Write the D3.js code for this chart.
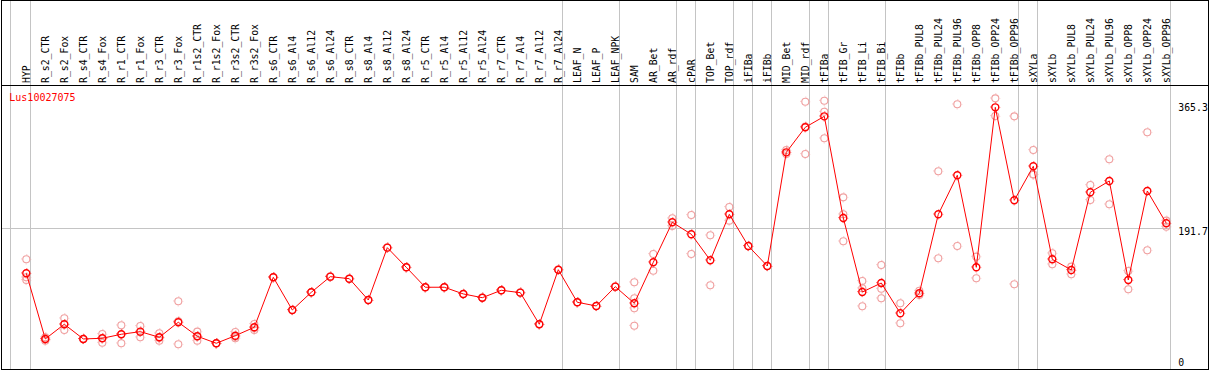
<!DOCTYPE html>
<html>
<head>
<meta charset="utf-8">
<script src="https://cdn.jsdelivr.net/npm/d3@7"></script>
<style>
  html, body { margin: 0; padding: 0; background: #fff; }
  svg { display: block; }
  text { font-family: "DejaVu Sans Mono", monospace; }
</style>
</head>
<body>
<svg id="chart"></svg>
<script>
const W = 1209, H = 370;

const geneId = "Lus10027075";

const categories = [
  "HYP", "R_s2_CTR", "R_s2_Fox", "R_s4_CTR", "R_s4_Fox", "R_r1_CTR", "R_r1_Fox",
  "R_r3_CTR", "R_r3_Fox", "R_r1s2_CTR", "R_r1s2_Fox", "R_r3s2_CTR", "R_r3s2_Fox",
  "R_s6_CTR", "R_s6_Al4", "R_s6_Al12", "R_s6_Al24", "R_s8_CTR", "R_s8_Al4",
  "R_s8_Al12", "R_s8_Al24", "R_r5_CTR", "R_r5_Al4", "R_r5_Al12", "R_r5_Al24",
  "R_r7_CTR", "R_r7_Al4", "R_r7_Al12", "R_r7_Al24", "LEAF_N", "LEAF_P", "LEAF_NPK",
  "SAM", "AR_Bet", "AR_rdf", "cPAR", "TOP_Bet", "TOP_rdf", "iFIBa", "iFIBb",
  "MID_Bet", "MID_rdf", "tFIBa", "tFIB_Gr", "tFIB_Li", "tFIB_Bi", "tFIBb",
  "tFIBb_PUL8", "tFIBb_PUL24", "tFIBb_PUL96", "tFIBb_OPP8", "tFIBb_OPP24", "tFIBb_OPP96",
  "sXYLa", "sXYLb", "sXYLb_PUL8", "sXYLb_PUL24", "sXYLb_PUL96", "sXYLb_OPP8",
  "sXYLb_OPP24", "sXYLb_OPP96"
];

// last sample of each group (a separator line follows it)
const groupEnds = [
  "HYP", "R_r7_Al24", "LEAF_NPK", "AR_rdf", "cPAR", "TOP_rdf", "iFIBa", "iFIBb",
  "MID_rdf", "tFIBa", "tFIB_Bi", "tFIBb_OPP96", "sXYLa", "sXYLb_OPP96"
];

const means = [
  129.2, 38.0, 58.4, 38.0, 38.9, 44.5, 48.1, 40.3, 61.2, 41.7, 32.0, 42.5, 54.2,
  123.6, 78.2, 102.8, 124.5, 121.7, 92.1, 164.8, 137.5, 109.8, 109.8, 100.5, 95.3,
  105.6, 102.3, 58.4, 134.2, 88.9, 83.8, 110.6,
  87.5, 144.5, 200.0, 183.4, 147.3, 211.1, 167.1, 139.3,
  297.2, 332.0, 347.2, 206.0, 103.2, 115.7, 73.6,
  101.4, 211.1, 265.3, 137.5, 359.7, 230.6,
  277.8, 148.6, 133.8, 241.7, 257.4, 119.9, 243.5, 198.6
];

const replicates = [
  [148.6, 123.6, 119.9], [40.3, 35.6, 38.0], [66.7, 50.5, 58.0], [38.0, 38.0, 38.0],
  [44.9, 32.8, 39.0], [57.0, 32.0, 44.5], [56.0, 40.3, 48.0], [45.9, 35.6, 39.5],
  [90.3, 30.6, 62.6], [48.1, 35.6, 41.5], [32.0, 32.0, 32.0], [47.7, 38.9, 41.0],
  [58.8, 50.5, 53.3],
  [123.6, 123.6], [78.2, 78.2], [102.8, 102.8], [124.5, 124.5], [121.7, 121.7],
  [92.1, 92.1], [164.8, 164.8], [137.5, 137.5], [109.8, 109.8], [109.8, 109.8],
  [100.5, 100.5], [95.3, 95.3], [105.6, 105.6], [102.3, 102.3], [58.4, 58.4],
  [134.2, 134.2], [88.9, 88.9], [83.8, 83.8], [110.6, 110.6],
  [116.7, 94.5, 80.6, 56.4], [156.0, 132.8], [205.6, 194.9], [210.2, 156.0],
  [182.0, 112.5], [221.3, 202.3], [167.1, 167.1], [139.3, 139.3],
  [300.4, 294.9], [367.5, 294.9, 333.0], [368.9, 353.6, 316.7],
  [234.7, 211.1, 173.6], [118.5, 108.4, 83.4], [140.7, 107.8, 94.5], [87.5, 59.8],
  [105.0, 99.0], [270.9, 150.0], [363.9, 167.1], [152.3, 122.3], [372.2, 347.7],
  [347.2, 113.9],
  [300.4, 266.7, 266.3], [157.0, 141.7], [138.4, 127.8], [251.8, 231.0],
  [287.5, 225.0], [132.4, 107.0], [325.0, 161.1], [202.3, 193.9]
];

const yTicks = [365.3, 191.7, 0];

const svg = d3.select("#chart").attr("width", W).attr("height", H);

const x = d3.scalePoint().domain(categories).range([26.3, 1166.3]);
const y = d3.scaleLinear().domain([0, 365.3]).range([366.3, 103.3]);

const headerY = 85.5;
const plotRight = 1170.5;

// group separators
const sepX = [x("HYP") - 16].concat(groupEnds.map(c => x(c) + 4))
  .map(v => Math.round(v) + 0.5);
svg.append("g").selectAll("line")
  .data(sepX)
  .enter().append("line")
  .attr("x1", d => d).attr("x2", d => d)
  .attr("y1", 0).attr("y2", H)
  .attr("stroke", "#c4c4c4").attr("stroke-width", 1);

// horizontal grid line at middle tick
svg.append("line")
  .attr("x1", 1).attr("x2", plotRight)
  .attr("y1", Math.round(y(191.7)) + 0.5).attr("y2", Math.round(y(191.7)) + 0.5)
  .attr("stroke", "#c4c4c4");

// frame + header line
svg.append("rect")
  .attr("x", 1.5).attr("y", 0.5)
  .attr("width", 1207).attr("height", 369)
  .attr("fill", "none").attr("stroke", "#000");
svg.append("line")
  .attr("x1", 1).attr("x2", 1208.5)
  .attr("y1", headerY).attr("y2", headerY)
  .attr("stroke", "#000");

// sample labels
svg.append("g").selectAll("text")
  .data(categories)
  .enter().append("text")
  .attr("transform", d => `translate(${x(d)},83) rotate(-90)`)
  .attr("dy", "0.36em")
  .attr("font-size", "9.8px")
  .attr("fill", "#000")
  .text(d => d);

// right axis labels
svg.append("g").selectAll("text")
  .data(yTicks)
  .enter().append("text")
  .attr("x", 1178.3)
  .attr("y", d => d === 0 ? y(d) - 0.5 : y(d))
  .attr("dominant-baseline", d => d === 0 ? "alphabetic" : "hanging")
  .attr("font-size", "9.8px")
  .attr("fill", "#000")
  .text(d => d === 0 ? "0" : d3.format(".1f")(d));

// gene id
svg.append("text")
  .attr("x", 9.3).attr("y", 100.7)
  .attr("font-size", "10px")
  .attr("fill", "#ff0000")
  .text(geneId);

// a marker: ring plus small spikes around it
function marker(sel, color, width) {
  sel.append("circle")
    .attr("r", 3.5)
    .attr("fill", "none")
    .attr("stroke", color)
    .attr("stroke-width", width);
  sel.append("circle")
    .attr("r", 4.6)
    .attr("fill", "none")
    .attr("stroke", color)
    .attr("stroke-width", 1)
    .attr("stroke-dasharray", "1 6.23")
    .attr("stroke-dashoffset", 0.5)
    .attr("opacity", 0.8);
}

// replicate points
const reps = [];
categories.forEach((c, i) => replicates[i].forEach(v => reps.push({ c, v })));
svg.append("g").selectAll("g")
  .data(reps)
  .enter().append("g")
  .attr("transform", d => `translate(${x(d.c)},${y(d.v)})`)
  .call(marker, "#f0a0a0", 1.1);

// mean line
const line = d3.line()
  .x((d, i) => x(categories[i]))
  .y(d => y(d));
svg.append("path")
  .datum(means)
  .attr("d", line)
  .attr("fill", "none")
  .attr("stroke", "#ff0000")
  .attr("stroke-width", 1);

// mean markers
svg.append("g").selectAll("g")
  .data(means)
  .enter().append("g")
  .attr("transform", (d, i) => `translate(${x(categories[i])},${y(d)})`)
  .call(marker, "#ff0000", 1.4);
</script>
</body>
</html>
